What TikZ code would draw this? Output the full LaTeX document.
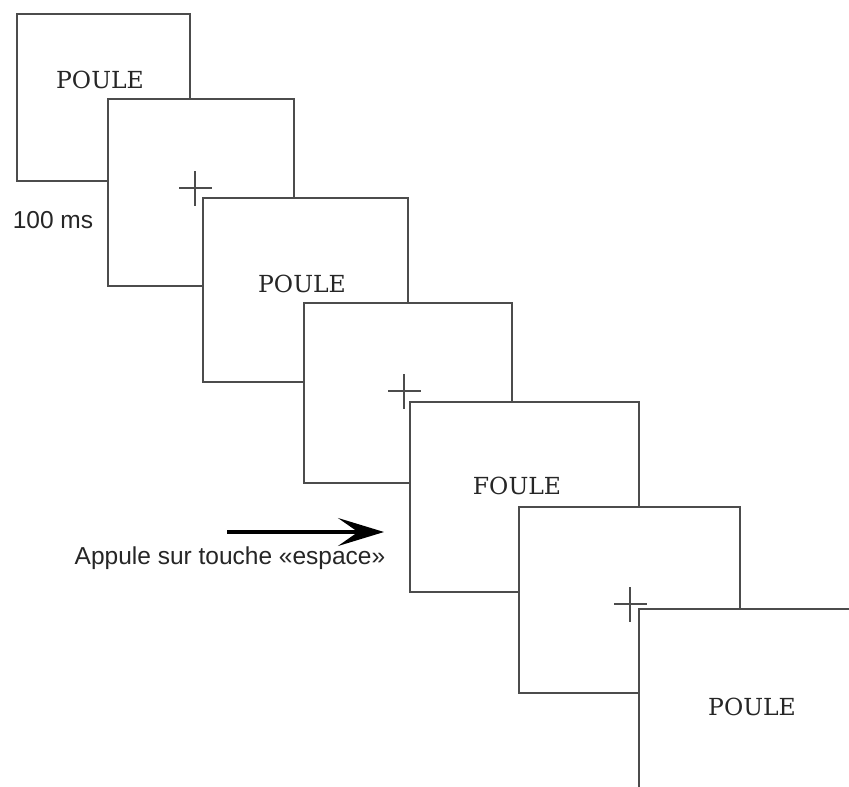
\documentclass[tikz,border=0pt]{standalone}
\usepackage{fontspec}
\newfontfamily\notefont{Liberation Sans}
\newfontfamily\wordfont{DejaVu Serif}
\usetikzlibrary{positioning,arrows.meta}

\tikzset{
  screen/.style={draw=black!70, line width=1.6pt, fill=white, rectangle,
    anchor=north west, inner sep=0pt, outer sep=0pt},
  word/.style={font=\wordfont\fontsize{23.5}{23.5}\selectfont, text=black!85},
  fixcross/.style={draw=black!70, line width=1.3pt},
  note/.style={font=\notefont\fontsize{24.5}{24.5}\selectfont, text=black!85},
}

\begin{document}
\begin{tikzpicture}[x=1pt,y=-1pt]
  \clip (0,0) rectangle (849,787);
  \fill [white] (0,0) rectangle (849,787);

  % first POULE
  \node [screen, minimum width=173pt, minimum height=167pt] (scr1) at (17,14) {};
  \node [word] (word1) at (100,80) {POULE};
  \node [note] (delay) at (53,220) {100 ms};

  \node [screen, minimum width=186pt, minimum height=187pt] (scr2) at (108,99) {};
  \coordinate (fix2) at (195,188);
  \draw [fixcross] (fix2) ++(-16,0) -- ++(33,0) (fix2) ++(0,-17) -- ++(0,35);

  \node [screen, minimum width=205pt, minimum height=184pt] (scr3) at (203,198) {};
  \node [word] (word3) at (302,284) {POULE};

  \node [screen, minimum width=208pt, minimum height=180pt] (scr4) at (304,303) {};
  \coordinate (fix4) at (404,391);
  \draw [fixcross] (fix4) ++(-16,0) -- ++(33,0) (fix4) ++(0,-17) -- ++(0,35);

  % FOULE and key press
  \node [screen, minimum width=229pt, minimum height=190pt] (scr5) at (410,402) {};
  \node [word] (word5) at (517,486) {FOULE};

  \coordinate (presstail) at (227,532);
  \coordinate (presshead) at (384,532);
  \draw [-{Stealth[length=46pt,width=28pt,inset=20pt]}, line width=3.2pt] (presstail) -- (presshead);
  \node [note] (press) at (230,558) {Appule sur touche «espace»};

  \node [screen, minimum width=221pt, minimum height=186pt] (scr6) at (519,507) {};
  \coordinate (fix6) at (630,604);
  \draw [fixcross] (fix6) ++(-16,0) -- ++(33,0) (fix6) ++(0,-17) -- ++(0,35);

  \node [screen, minimum width=240pt, minimum height=200pt] (scr7) at (639,609) {};
  \node [word] (word7) at (752,707) {POULE};
\end{tikzpicture}
\end{document}
